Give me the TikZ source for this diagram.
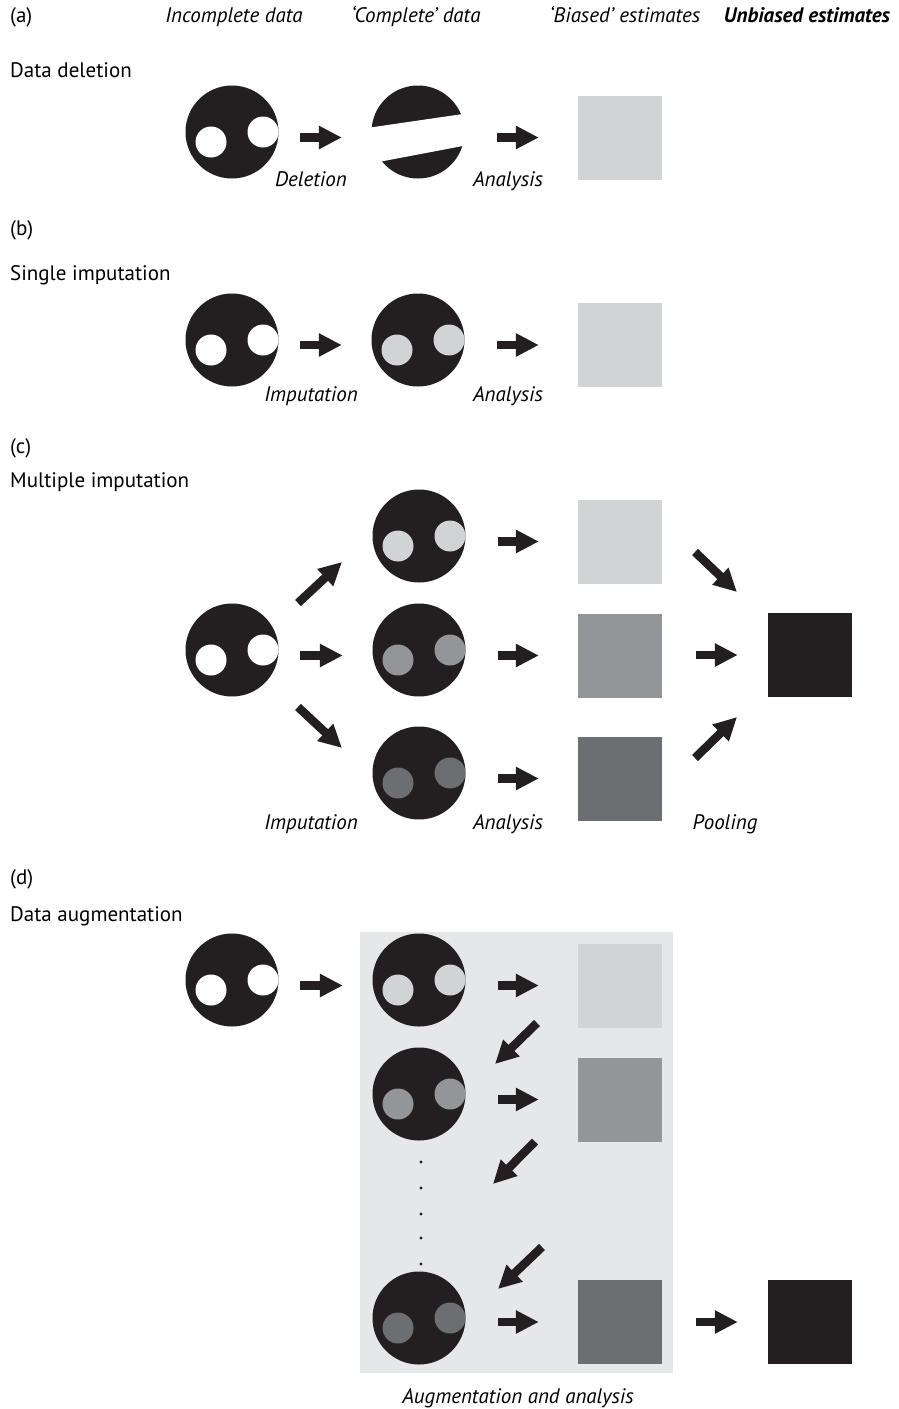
\documentclass[tikz,border=0pt]{standalone}
\usepackage{fontspec}
\setmainfont{PT Sans}
\usepackage{tikz}
\usetikzlibrary{arrows.meta, calc}
\definecolor{ink}{HTML}{231F20}
\definecolor{pale}{HTML}{D1D3D4}
\definecolor{midgrey}{HTML}{939598}
\definecolor{darkgrey}{HTML}{6D6E71}
\definecolor{panel}{HTML}{E6E7E8}
\newcommand{\labsize}{\fontsize{21}{25}\selectfont}
\newcommand{\holes}[2]{%
  \fill[#2] ([shift={(-21,10)}]#1.center) circle (15.5);
  \fill[#2] ([shift={(31,0)}]#1.center) circle (15.5);}

\begin{document}
\begin{tikzpicture}[x=1pt, y=-1pt,
  data/.style={circle, fill=ink, minimum size=93pt, inner sep=0pt},
  est/.style={rectangle, fill=#1, minimum size=84pt, inner sep=0pt},
  fat/.style={draw=ink, line width=8.5pt, -{Triangle[length=23pt, width=22pt]}},
  cc/.style={fat, shorten <=21.5pt, shorten >=29.5pt},
  cq/.style={fat, shorten <=32.5pt, shorten >=39pt},
  qq/.style={fat, shorten <=34pt, shorten >=30pt},
  lab/.style={font=\labsize\itshape, anchor=base, inner sep=0pt},
  sec/.style={font=\labsize, anchor=base west, inner sep=0pt}]
\useasboundingbox (0,0) rectangle (898,1409);

\node[sec] (pa) at (10,22) {(a)};
\node[lab] (h1) at (234,22) {Incomplete data};
\node[lab] (h2) at (416,22) {`Complete' data};
\node[lab] (h3) at (625,22) {`Biased' estimates};
\node[lab, font=\labsize\bfseries\itshape] (h4) at (807,22) {Unbiased estimates};
\node[sec] (sa) at (10,77) {Data deletion};
\node[data] (a0) at (232,132) {};
\node[data] (a1) at (418,132) {};
\node[est=pale] (qa) at (620,137.5) {};
\holes{a0}{white}
\fill[white] ([shift={(-60,-2.7)}]a1.center) -- ([shift={(60,-20.2)}]a1.center)
  -- ([shift={(60,11.1)}]a1.center) -- ([shift={(-60,33.9)}]a1.center) -- cycle;
\draw[cc] (a0.east |- qa) -- (a1.west |- qa);
\draw[cq] (a1.east |- qa) -- (qa.west);
\node[lab] (la1) at (311,186) {Deletion};
\node[lab] (la2) at (508,186) {Analysis};

\node[sec] (pb) at (10,235) {(b)};
\node[sec] (sb) at (10,280) {Single imputation};
\node[data] (b0) at (232,340) {};
\node[data] (b1) at (418,340) {};
\node[est=pale] (qb) at (620,345) {};
\holes{b0}{white}
\holes{b1}{pale}
\draw[cc] (b0.east |- qb) -- (b1.west |- qb);
\draw[cq] (b1.east |- qb) -- (qb.west);
\node[lab] (lb1) at (311,401) {Imputation};
\node[lab] (lb2) at (508,401) {Analysis};

\node[sec] (pc) at (10,453) {(c)};
\node[sec] (sc) at (10,487) {Multiple imputation};
\node[data] (c0) at (232,650) {};
\node[data] (c1) at (419,536) {};
\node[data] (c2) at (419,650) {};
\node[data] (c3) at (419,773) {};
\node[est=pale] (q1) at (620,541.5) {};
\node[est=midgrey] (q2) at (620,655.5) {};
\node[est=darkgrey] (q3) at (620,778.5) {};
\node[est=ink] (qc) at (810,655) {};
\holes{c0}{white}
\holes{c1}{pale}
\holes{c2}{midgrey}
\holes{c3}{darkgrey}
\draw[fat] ([shift={(66,-47)}]c0.center) -- ([shift={(-77,26)}]c1.center);
\draw[cc] (c0.east |- q2) -- (c2.west |- q2);
\draw[fat] ([shift={(66,57)}]c0.center) -- ([shift={(-77,-25)}]c3.center);
\draw[cq] (c1.east |- q1) -- (q1.west);
\draw[cq] (c2.east |- q2) -- (q2.west);
\draw[cq] (c3.east |- q3) -- (q3.west);
\draw[fat] ([shift={(75,10.5)}]q1.center) -- ([shift={(-73,-63)}]qc.center);
\draw[qq] (q2.east |- qc) -- (qc.west);
\draw[fat] ([shift={(75,-20.5)}]q3.center) -- ([shift={(-73,62)}]qc.center);
\node[lab] (lc1) at (311,829) {Imputation};
\node[lab] (lc2) at (508,829) {Analysis};
\node[lab] (lc3) at (725,829) {Pooling};

\node[sec] (pd) at (10,884) {(d)};
\node[sec] (sd) at (10,921) {Data augmentation};
\fill[panel] (360,932) rectangle (673,1373);
\node[data] (d0) at (232,980) {};
\node[data] (d1) at (419,980) {};
\node[data] (d2) at (419,1094) {};
\node[data] (d3) at (419,1318) {};
\node[est=pale] (r1) at (620,985.5) {};
\node[est=midgrey] (r2) at (620,1099.5) {};
\node[est=darkgrey] (r3) at (620,1322) {};
\node[est=ink] (rd) at (810,1322) {};
\holes{d0}{white}
\holes{d1}{pale}
\holes{d2}{midgrey}
\holes{d3}{darkgrey}
\draw[cc] (d0.east |- r1) -- (d1.west |- r1);
\draw[cq] (d1.east |- r1) -- (r1.west);
\draw[cq] (d2.east |- r2) -- (r2.west);
\draw[cq] (d3.east |- r3) -- (r3.west);
\draw[fat] ([shift={(-83,37.5)}]r1.center) -- ([shift={(76,-30)}]d2.center);
\draw[fat] ([shift={(-85,42)}]r2.center) -- ([shift={(-127,84.5)}]r2.center);
\draw[fat] ([shift={(123,-71)}]d3.center) -- ([shift={(79,-29)}]d3.center);
\draw[qq] (r3.east) -- (rd.west);
\foreach \y in {1162,1188,1214,1238,1264}
  \fill[ink] (421,\y) circle (1.6);
\node[lab] (ld) at (518,1403) {Augmentation and analysis};
\end{tikzpicture}
\end{document}
